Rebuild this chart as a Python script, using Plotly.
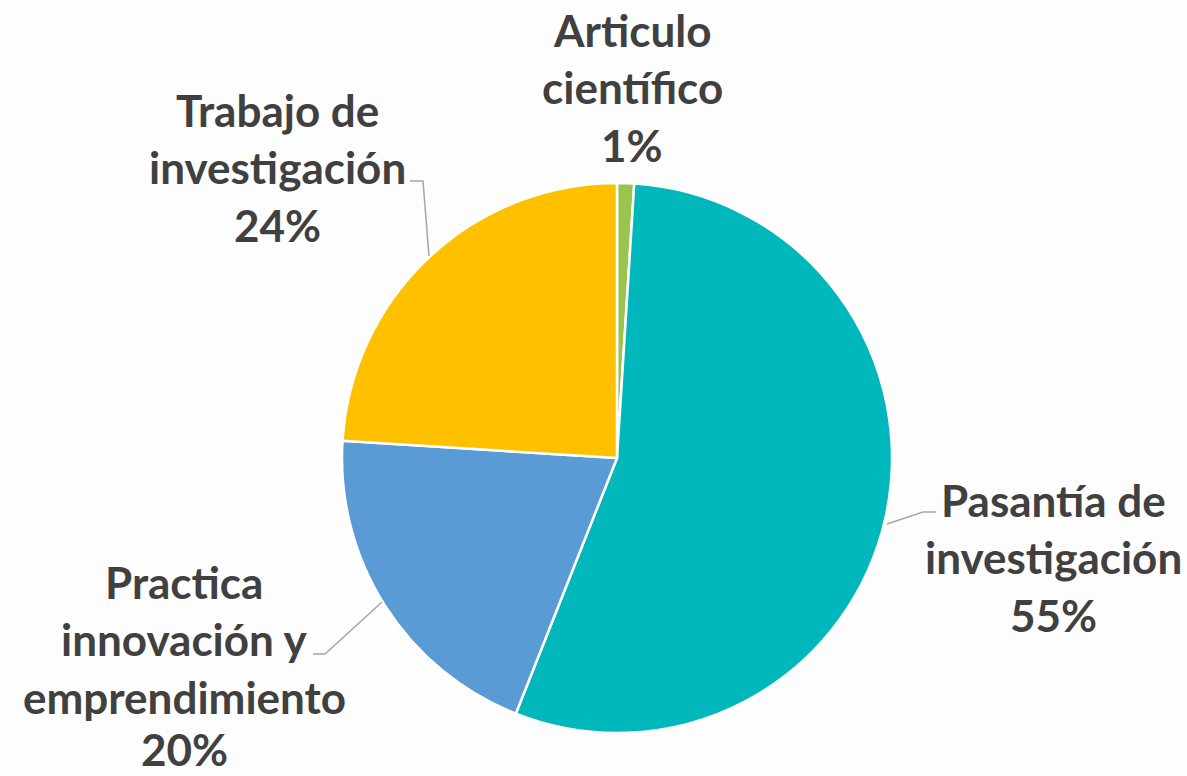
import plotly.graph_objects as go

W, H = 1187, 776

# Data
categories = ["Articulo científico", "Pasantía de investigación",
              "Practica innovación y emprendimiento", "Trabajo de investigación"]
percentages = [1, 55, 20, 24]
colors = ["#9BC44F", "#00B8BC", "#5B9BD5", "#FFC000"]

# Label text split into lines
label_lines = [
    ["Articulo", "científico"],
    ["Pasantía de", "investigación"],
    ["Practica", "innovación y", "emprendimiento"],
    ["Trabajo de", "investigación"],
]

# Label block anchors (pixel centre x, first line centre y) and line step
label_pos = [(632, 30), (1053, 500), (184, 582), (277, 110)]
line_step = 57.3

# Leader lines (pixel polylines)
leaders = [
    None,
    [(887, 524), (923, 512), (936, 512)],
    [(313, 654), (325, 654), (382, 602)],
    [(410, 181), (423, 181), (429, 256)],
]

cx, cy, r = 617, 458, 275


def px(x):
    return x / W


def py(y):
    return 1 - y / H


fig = go.Figure(go.Pie(
    labels=categories,
    values=percentages,
    sort=False,
    direction="clockwise",
    rotation=0,
    marker=dict(colors=colors, line=dict(color="white", width=2.5)),
    textinfo="none",
    hoverinfo="label+percent",
    showlegend=False,
    domain=dict(x=[px(cx - r), px(cx + r)], y=[py(cy + r), py(cy - r)]),
))

annotations = []
for lines, pct, (x0, y0) in zip(label_lines, percentages, label_pos):
    all_lines = lines + [f"{pct}%"]
    for i, t in enumerate(all_lines):
        # keep the lowest line fully inside the page
        yc = min(y0 + i * line_step, H - 27)
        annotations.append(dict(
            x=px(x0), y=py(yc), xref="paper", yref="paper",
            text=t, showarrow=False, xanchor="center", yanchor="middle",
            font=dict(family="Lato", size=44, color="#404040", weight="bold"),
        ))

shapes = []
for pts in leaders:
    if not pts:
        continue
    path = "M " + " L ".join(f"{px(x)},{py(y)}" for x, y in pts)
    shapes.append(dict(type="path", path=path, xref="paper", yref="paper",
                       line=dict(color="#A6A6A6", width=1.5)))

fig.update_layout(
    width=W, height=H,
    margin=dict(l=0, r=0, t=0, b=0),
    paper_bgcolor="#FDFDFD",
    plot_bgcolor="#FDFDFD",
    annotations=annotations,
    shapes=shapes,
)

fig.write_html("out.html")
